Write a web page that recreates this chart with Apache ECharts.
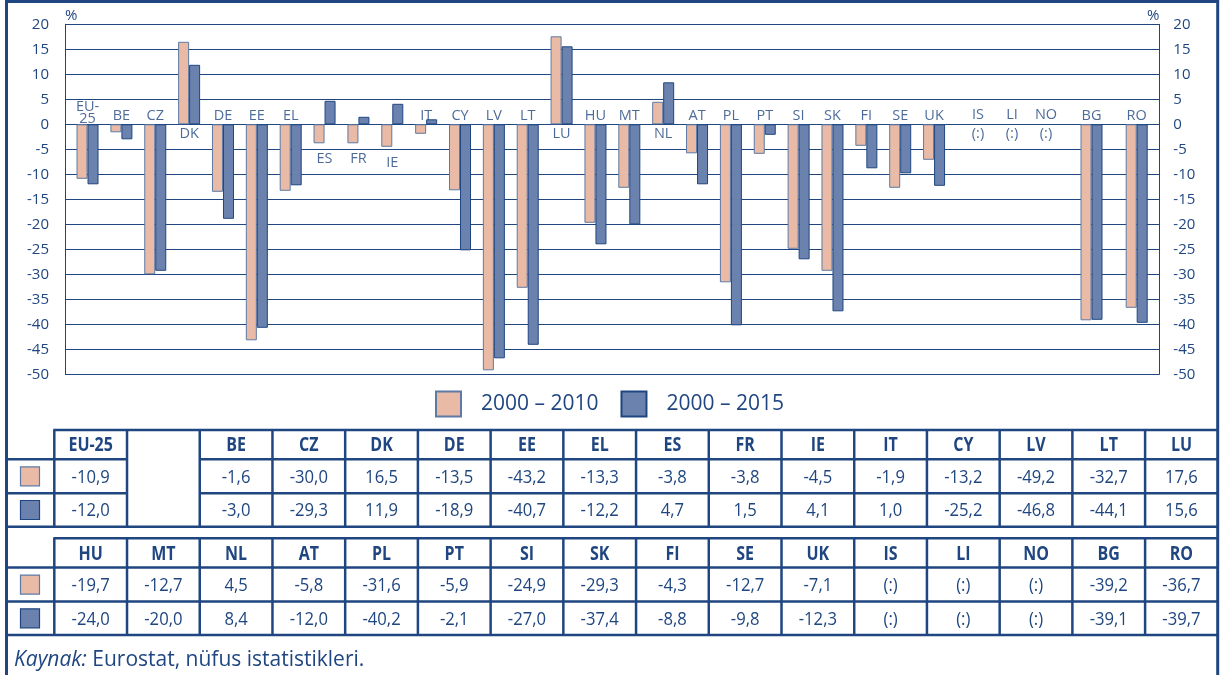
<!DOCTYPE html>
<html>
<head>
<meta charset="utf-8">
<script src="https://cdn.jsdelivr.net/npm/echarts@6/dist/echarts.min.js"></script>
<style>
  html, body { margin: 0; padding: 0; background: #fff; }
  #chart { width: 1220px; height: 675px; }
</style>
</head>
<body>
<div id="chart"></div>
<script>
  // EU-25 and member states
  var euCats = ['EU-25', 'BE', 'CZ', 'DK', 'DE', 'EE', 'EL', 'ES', 'FR', 'IE', 'IT', 'CY', 'LV', 'LT', 'LU',
    'HU', 'MT', 'NL', 'AT', 'PL', 'PT', 'SI', 'SK', 'FI', 'SE', 'UK'];
  var eu2010 = [-10.9, -1.6, -30.0, 16.5, -13.5, -43.2, -13.3, -3.8, -3.8, -4.5, -1.9, -13.2, -49.2, -32.7, 17.6,
    -19.7, -12.7, 4.5, -5.8, -31.6, -5.9, -24.9, -29.3, -4.3, -12.7, -7.1];
  var eu2015 = [-12.0, -3.0, -29.3, 11.9, -18.9, -40.7, -12.2, 4.7, 1.5, 4.1, 1.0, -25.2, -46.8, -44.1, 15.6,
    -24.0, -20.0, 8.4, -12.0, -40.2, -2.1, -27.0, -37.4, -8.8, -9.8, -12.3];
  // EFTA (no data)
  var eftaCats = ['IS', 'LI', 'NO'];
  var efta2010 = [null, null, null];
  var efta2015 = [null, null, null];
  // candidate countries
  var candCats = ['BG', 'RO'];
  var cand2010 = [-39.2, -36.7];
  var cand2015 = [-39.1, -39.7];

  var periods = ['2000 – 2010', '2000 – 2015'];
  var yMin = -50, yMax = 20, yStep = 5;

  var NAVY = '#1f4680';
  var PINK = '#e9bba6';
  var BLUE = '#6b82ae';
  var SANS = "'Open Sans', 'Noto Sans', sans-serif";

  var chart = echarts.init(document.getElementById('chart'));

  var fmt = function (v) {
    return v == null ? '(:)' : v.toFixed(1).replace('.', ',');
  };

  // country names sit on the zero line, above or below depending on the bars
  var nameLabels = function (cats, a, b) {
    return cats.map(function (c, i) {
      if (a[i] == null) {
        return { name: c, value: 0, label: { position: 'inside', formatter: c + '\n(:)', lineHeight: 19 } };
      }
      var hi = Math.max(a[i], b[i]);
      var lo = Math.min(a[i], b[i], 0);
      if (hi > 1.2) {
        return { name: c, value: lo, label: { position: 'bottom', distance: lo < 0 ? 8 : 2, formatter: c } };
      }
      return { name: c, value: 0, label: { position: 'top', distance: c.indexOf('-') > 0 ? -1 : 2,
        lineHeight: 12, formatter: c.replace('-', '-\n') } };
    });
  };

  var plotTop = 24.3, plotH = 350;
  var barGrids = [
    { cats: euCats, a: eu2010, b: eu2015, left: 70.6, width: 880.4 },
    { cats: eftaCats, a: efta2010, b: efta2015, left: 961, width: 102 },
    { cats: candCats, a: cand2010, b: cand2015, left: 1068.9, width: 90.4 }
  ];

  var grid = [{ left: 65, top: plotTop, width: 1094.3, height: plotH }];
  var xAxis = [{ gridIndex: 0, type: 'value', min: 0, max: 1, show: false }];
  var yCommon = { type: 'value', min: yMin, max: yMax, interval: yStep };
  var yAxis = [
    Object.assign({}, yCommon, {
      gridIndex: 0, position: 'left',
      name: '%', nameLocation: 'end', nameGap: 1,
      nameTextStyle: { color: NAVY, fontSize: 15, fontFamily: SANS, align: 'left' },
      axisLine: { show: true, lineStyle: { color: NAVY, width: 1 } },
      axisTick: { show: false },
      axisLabel: { color: NAVY, fontSize: 15, fontFamily: SANS, margin: 16 },
      splitLine: { show: true, lineStyle: { color: NAVY, width: 1.2 } }
    }),
    Object.assign({}, yCommon, {
      gridIndex: 0, position: 'right',
      name: '%', nameLocation: 'end', nameGap: 1,
      nameTextStyle: { color: NAVY, fontSize: 15, fontFamily: SANS, align: 'right' },
      axisLine: { show: true, lineStyle: { color: NAVY, width: 1 } },
      axisTick: { show: false },
      axisLabel: { color: NAVY, fontSize: 15, fontFamily: SANS, margin: 14, align: 'left' },
      splitLine: { show: false }
    })
  ];
  var series = [];

  barGrids.forEach(function (g, k) {
    var gi = k + 1;
    grid.push({ left: g.left, top: plotTop, width: g.width, height: plotH });
    xAxis.push({ gridIndex: gi, type: 'category', data: g.cats, show: false });
    yAxis.push(Object.assign({}, yCommon, { gridIndex: gi, show: false, splitLine: { show: false } }));
    series.push({
      name: periods[0], type: 'bar', xAxisIndex: gi, yAxisIndex: gi + 1,
      data: g.a, barWidth: 11, barGap: '0%',
      itemStyle: { color: PINK, borderColor: '#5d7aa5', borderWidth: 1 }
    });
    series.push({
      name: periods[1], type: 'bar', xAxisIndex: gi, yAxisIndex: gi + 1,
      data: g.b, barWidth: 11, barGap: '0%',
      itemStyle: { color: BLUE, borderColor: NAVY, borderWidth: 1 }
    });
    series.push({
      type: 'scatter', xAxisIndex: gi, yAxisIndex: gi + 1, silent: true, z: 5,
      symbolSize: 1, itemStyle: { color: 'rgba(0,0,0,0)' },
      label: { show: true, color: NAVY, fontSize: 14.5, fontFamily: SANS },
      data: nameLabels(g.cats, g.a, g.b)
    });
  });

  // table under the chart
  var allCats = euCats.concat(eftaCats, candCats);
  var all2010 = eu2010.concat(efta2010, cand2010);
  var all2015 = eu2015.concat(efta2015, cand2015);
  var tableX = 54.3, colW = 72.72, tableR = 1217.7, frameL = 6.5;
  var rowH = [29.3, 34, 33.4];
  var blocks = [
    { top: 430, cols: [allCats[0], null].concat(allCats.slice(1, 15)) },
    { top: 538.3, cols: allCats.slice(15) }
  ];

  var graphic = [{
    type: 'rect', silent: true, z: 10,
    shape: { x: frameL, y: 1.5, width: tableR - frameL, height: 700 },
    style: { fill: 'none', stroke: NAVY, lineWidth: 3 }
  }];
  var hline = function (x1, x2, y) {
    graphic.push({ type: 'line', silent: true, z: 10, shape: { x1: x1, y1: y, x2: x2, y2: y },
      style: { stroke: NAVY, lineWidth: 2.5 } });
  };
  var vline = function (x, y1, y2) {
    graphic.push({ type: 'line', silent: true, z: 10, shape: { x1: x, y1: y1, x2: x, y2: y2 },
      style: { stroke: NAVY, lineWidth: 2.5 } });
  };
  // condensed look: squeeze the text horizontally
  var text = function (x, y, s, bold) {
    graphic.push({ type: 'text', silent: true, z: 10, x: x, y: y, scaleX: bold ? 0.82 : 0.9,
      style: { text: s, fill: NAVY, fontSize: bold ? 19.5 : 18.5, fontWeight: bold ? 'bold' : 'normal',
        fontFamily: SANS, align: 'center', verticalAlign: 'middle' } });
  };
  var swatch = function (cy, color, border) {
    graphic.push({ type: 'rect', silent: true, z: 10,
      shape: { x: 20.5, y: cy - 9.5, width: 19, height: 19 },
      style: { fill: color, stroke: border, lineWidth: 1.2 } });
  };

  blocks.forEach(function (bl) {
    var y0 = bl.top, y1 = y0 + rowH[0], y2 = y1 + rowH[1], y3 = y2 + rowH[2];
    hline(tableX - 1, tableR, y0);
    hline(frameL, tableX, y1);
    hline(frameL, tableX, y2);
    hline(frameL, tableR, y3);
    vline(tableX, y0, y3);
    swatch((y1 + y2) / 2, PINK, '#5d7aa5');
    swatch((y2 + y3) / 2, BLUE, NAVY);
    bl.cols.forEach(function (c, k) {
      var xl = tableX + k * colW, xr = xl + colW, xc = xl + colW / 2;
      if (k > 0) vline(xl, y0, y3);
      if (c == null) return;
      hline(xl, xr, y1);
      hline(xl, xr, y2);
      var i = allCats.indexOf(c);
      text(xc, (y0 + y1) / 2 + 1, c, true);
      text(xc, (y1 + y2) / 2 + 1, fmt(all2010[i]), false);
      text(xc, (y2 + y3) / 2 + 1, fmt(all2015[i]), false);
    });
  });

  graphic.push({
    type: 'text', silent: true, z: 10, x: 14, y: 660,
    style: {
      text: '{i|Kaynak:} Eurostat, nüfus istatistikleri.',
      fill: NAVY, fontSize: 21, fontFamily: SANS, verticalAlign: 'middle',
      rich: { i: { fontStyle: 'italic', fontSize: 21, fontFamily: SANS, fill: NAVY } }
    }
  });

  chart.setOption({
    backgroundColor: '#fff',
    animation: false,
    grid: grid,
    xAxis: xAxis,
    yAxis: yAxis,
    legend: {
      data: periods, left: 435, top: 390.5, padding: 0,
      itemWidth: 25, itemHeight: 25, itemGap: 22, icon: 'rect',
      formatter: function (n) { return '{g|}' + n; },
      textStyle: { color: NAVY, fontSize: 21, fontFamily: SANS, rich: { g: { width: 15 } } }
    },
    series: series,
    graphic: graphic
  });
</script>
</body>
</html>
